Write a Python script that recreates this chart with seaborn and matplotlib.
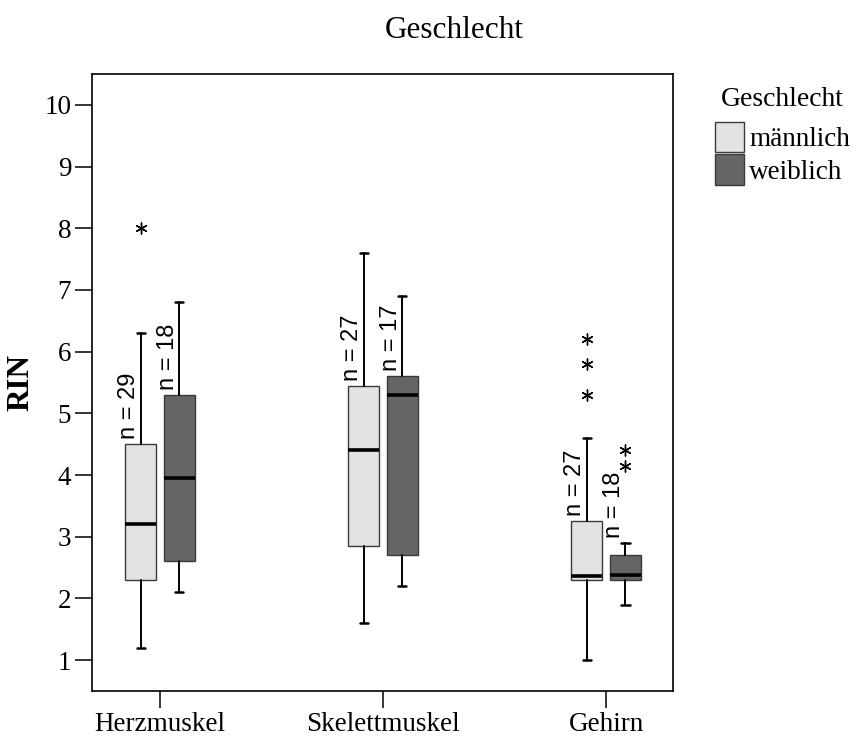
import matplotlib
matplotlib.use('Agg')
import matplotlib.pyplot as plt
from matplotlib.patches import Patch
import seaborn as sns
import pandas as pd

##### データ (Boxplot-Kennwerte)
categories = ['Herzmuskel', 'Skelettmuskel', 'Gehirn']
sexes = ['männlich', 'weiblich']

m_whislo = [1.2, 1.6, 1.0]
m_q1     = [2.3, 2.85, 2.3]
m_med    = [3.2, 4.4, 2.37]
m_q3     = [4.5, 5.45, 3.25]
m_whishi = [6.3, 7.6, 4.6]
m_n      = [29, 27, 27]
m_extreme = [[8.0], [], [5.3, 5.8, 6.2]]

w_whislo = [2.1, 2.2, 1.9]
w_q1     = [2.6, 2.7, 2.3]
w_med    = [3.95, 5.3, 2.38]
w_q3     = [5.3, 5.6, 2.7]
w_whishi = [6.8, 6.9, 2.9]
w_n      = [18, 17, 18]
w_extreme = [[], [], [4.15, 4.4]]

colors = {'männlich': '#e3e3e3', 'weiblich': '#656565'}

##### Stil
sns.set_style('ticks')
plt.rcParams['font.family'] = ['Liberation Serif', 'DejaVu Serif']
plt.rcParams['text.color'] = 'black'
plt.rcParams['axes.labelcolor'] = 'black'
plt.rcParams['xtick.color'] = 'black'
plt.rcParams['ytick.color'] = 'black'

fig = plt.figure(figsize=(8.56, 7.4), dpi=100)
ax = fig.add_axes([92/856, 49/740, 581/856, 617/740])

offset = 0.087
width = 0.139

series = {
    'männlich': (m_whislo, m_q1, m_med, m_q3, m_whishi, m_n, m_extreme, -offset),
    'weiblich': (w_whislo, w_q1, w_med, w_q3, w_whishi, w_n, w_extreme, offset),
}

ext_rows = []
for sex, (lo, q1, med, q3, hi, n, ext, off) in series.items():
    stats = []
    for i in range(len(categories)):
        stats.append({'whislo': lo[i], 'q1': q1[i], 'med': med[i], 'q3': q3[i],
                      'whishi': hi[i], 'fliers': []})
    pos = [i + off for i in range(len(categories))]
    ax.bxp(stats, positions=pos, widths=width, patch_artist=True,
           showfliers=False, capwidths=0.036,
           boxprops=dict(facecolor=colors[sex], edgecolor='#3a3a3a', linewidth=1.0),
           medianprops=dict(color='black', linewidth=2.6, solid_capstyle='butt'),
           whiskerprops=dict(color='black', linewidth=1.4),
           capprops=dict(color='black', linewidth=1.8))
    for i in range(len(categories)):
        # n-Beschriftung über dem Kasten (bzw. über dem Whisker, wenn kurz)
        base = q3[i] if hi[i] - q3[i] > 1.1 else hi[i]
        ax.text(pos[i] - 0.004, base + 0.08, f'n = {n[i]}', rotation=90,
                ha='right', va='bottom', fontsize=17,
                family=['Liberation Sans', 'DejaVu Sans'])
        for v in ext[i]:
            ext_rows.append({'x': pos[i], 'y': v})

ext_df = pd.DataFrame(ext_rows)
sns.scatterplot(data=ext_df, x='x', y='y', marker=(6, 2, 0), s=65,
                color='black', linewidth=1.0, ax=ax, legend=False)

##### Achsen
ax.set_xlim(-0.305, 2.30)
ax.set_ylim(0.5, 10.5)
ax.set_xticks(range(len(categories)))
ax.set_xticklabels(categories, fontsize=19.5)
ax.set_yticks(range(1, 11))
ax.set_yticklabels([str(v) for v in range(1, 11)], fontsize=19.5)
ax.tick_params(axis='both', direction='out', length=12, width=1.1, pad=3, color='black')
for sp in ax.spines.values():
    sp.set_visible(True)
    sp.set_linewidth(1.2)
    sp.set_color('black')
ax.set_xlabel('')
ax.set_ylabel('RIN', fontsize=22.5, fontweight='bold', labelpad=6)

##### Titel
fig.text(454/856, 1 - 31/740, 'Geschlecht', ha='center', va='center', fontsize=22.5)

##### Legende
handles = [Patch(facecolor=colors[s], edgecolor='#3a3a3a', linewidth=1.0) for s in sexes]
leg = fig.legend(handles, sexes, title='Geschlecht', loc='upper left',
                 bbox_to_anchor=(715/856, 1 - 87/740), frameon=False,
                 fontsize=19.5, title_fontsize=20, handlelength=1.07, handleheight=1.35,
                 handletextpad=0.2, labelspacing=0.08, borderpad=0, borderaxespad=0)
leg._legend_box.sep = 7

fig.savefig('out.png', dpi=100)
